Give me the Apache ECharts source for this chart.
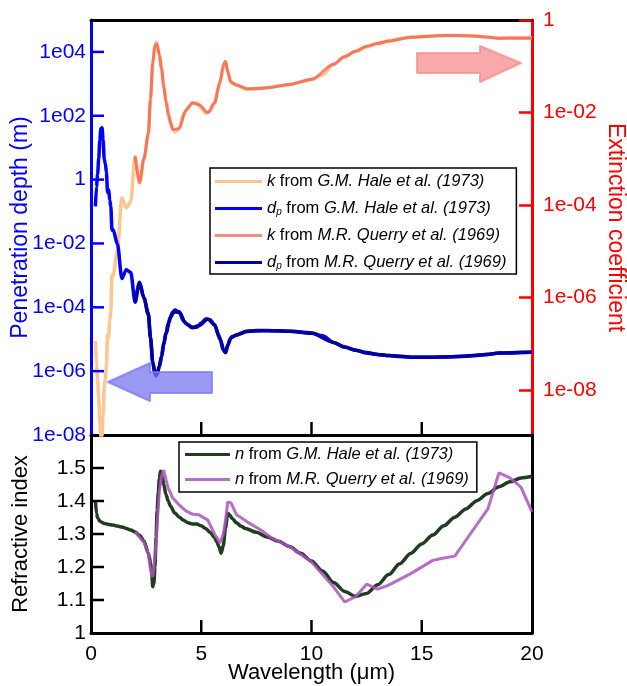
<!DOCTYPE html>
<html>
<head>
<meta charset="utf-8">
<script src="https://cdn.jsdelivr.net/npm/echarts@6/dist/echarts.min.js"></script>
<style>
  html, body { margin: 0; padding: 0; background: #ffffff; }
  #chart { width: 627px; height: 686px; }
</style>
</head>
<body>
<div id="chart"></div>
<script>
// Optical constants of liquid water, 0.2 - 20 um.

// Hale & Querry (1973): wavelength grid for k and penetration depth
const lambdaHaleK = [0.2, 0.25, 0.3, 0.35, 0.4, 0.45, 0.5, 0.55, 0.6, 0.65,
  0.7, 0.75, 0.8, 0.85, 0.9, 0.95, 1.0, 1.2, 1.4, 1.6,
  1.8, 2.0, 2.2, 2.4, 2.6, 2.7, 2.8, 2.9, 2.95, 3.0,
  3.1, 3.2, 3.3, 3.4, 3.6, 3.8, 4.0, 4.2, 4.4, 4.6,
  4.8, 5.0, 5.2, 5.4, 5.6, 5.8, 5.9, 6.0, 6.1, 6.2,
  6.3, 6.4, 6.6, 6.8, 7.0, 7.5, 8.0, 8.5, 9.0, 9.5,
  10.0, 10.5, 11.0, 11.5, 12.0, 12.5, 13.0, 13.5, 14.0, 14.5,
  15.0, 16.0, 17.0, 17.5, 18.0, 18.5, 19.0, 20.0];

const kHale = [1.1e-7, 3.3e-8, 1.6e-8, 6e-9, 1.9e-9, 9e-10, 9.5e-10, 2.5e-9, 1.1e-8, 1.6e-8,
  3.3e-8, 1.5e-7, 1.3e-7, 3.0e-7, 5.0e-7, 2.9e-6, 2.9e-6, 1.0e-5, 1.4e-4, 8.5e-5,
  1.15e-4, 1.1e-3, 2.9e-4, 9.5e-4, 3.2e-3, 1.9e-2, 0.115, 0.26, 0.33, 0.27,
  0.18, 0.09, 0.04, 0.018, 0.006, 0.0037, 0.0046, 0.009, 0.0125, 0.0155,
  0.016, 0.0124, 0.0096, 0.0105, 0.0155, 0.035, 0.055, 0.1, 0.125, 0.08,
  0.05, 0.042, 0.039, 0.035, 0.032, 0.032, 0.034, 0.037, 0.040, 0.045,
  0.051, 0.065, 0.11, 0.16, 0.21, 0.26, 0.31, 0.35, 0.39, 0.42,
  0.44, 0.46, 0.46, 0.45, 0.42, 0.40, 0.41, 0.41];

const dpHale = [0.145, 0.603, 1.49, 4.64, 16.8, 39.8, 41.9, 17.5, 4.34, 3.23,
  1.69, 0.398, 0.49, 0.225, 0.143, 0.0261, 0.0274, 0.00955, 7.96e-4, 1.5e-3,
  1.25e-3, 1.45e-4, 6.04e-4, 2.01e-4, 6.47e-5, 1.13e-5, 1.94e-6, 8.9e-7, 7.1e-7, 8.8e-7,
  1.37e-6, 2.83e-6, 6.6e-6, 1.5e-5, 4.78e-5, 8.17e-5, 6.92e-5, 3.71e-5, 2.8e-5, 2.36e-5,
  2.39e-5, 3.21e-5, 4.31e-5, 4.09e-5, 2.87e-5, 1.32e-5, 8.5e-6, 4.77e-6, 3.88e-6, 6.17e-6,
  1.0e-5, 1.21e-5, 1.35e-5, 1.55e-5, 1.74e-5, 1.87e-5, 1.87e-5, 1.83e-5, 1.79e-5, 1.68e-5,
  1.56e-5, 1.29e-5, 7.96e-6, 5.72e-6, 4.55e-6, 3.83e-6, 3.34e-6, 3.07e-6, 2.86e-6, 2.75e-6,
  2.71e-6, 2.77e-6, 2.94e-6, 3.1e-6, 3.41e-6, 3.68e-6, 3.69e-6, 3.88e-6];

// Hale & Querry (1973): refractive index
const lambdaHaleN = [0.2, 0.25, 0.3, 0.4, 0.5, 0.6, 0.8, 1.0, 1.2, 1.4,
  1.6, 1.8, 2.0, 2.2, 2.4, 2.6, 2.65, 2.7, 2.75, 2.8,
  2.85, 2.9, 2.95, 3.0, 3.05, 3.1, 3.15, 3.2, 3.25, 3.3,
  3.4, 3.5, 3.6, 3.8, 4.0, 4.2, 4.4, 4.6, 4.8, 5.0,
  5.2, 5.4, 5.6, 5.7, 5.8, 5.9, 6.0, 6.1, 6.2, 6.3,
  6.4, 6.6, 6.8, 7.0, 7.5, 8.0, 8.5, 9.0, 9.5, 10.0,
  10.5, 11.0, 11.5, 12.0, 12.5, 13.0, 13.5, 14.0, 14.5, 15.0,
  15.5, 16.0, 16.5, 17.0, 17.5, 18.0, 18.5, 19.0, 19.5, 20.0];

const nHale = [1.40, 1.362, 1.349, 1.339, 1.335, 1.332, 1.329, 1.327, 1.324, 1.321,
  1.317, 1.312, 1.306, 1.296, 1.279, 1.242, 1.228, 1.212, 1.188, 1.14,
  1.15, 1.20, 1.29, 1.371, 1.426, 1.467, 1.49, 1.478, 1.467, 1.45,
  1.42, 1.40, 1.385, 1.364, 1.351, 1.342, 1.334, 1.33, 1.33, 1.325,
  1.317, 1.305, 1.289, 1.277, 1.262, 1.242, 1.265, 1.319, 1.363, 1.357,
  1.347, 1.334, 1.324, 1.317, 1.305, 1.291, 1.278, 1.262, 1.242, 1.218,
  1.188, 1.153, 1.126, 1.111, 1.12, 1.146, 1.177, 1.21, 1.241, 1.27,
  1.297, 1.325, 1.351, 1.376, 1.401, 1.423, 1.443, 1.458, 1.47, 1.475];

// Querry et al. (1969)
const lambdaQuerry = [2.0, 2.2, 2.4, 2.6, 2.7, 2.8, 2.9, 3.0, 3.1, 3.2,
  3.3, 3.4, 3.5, 3.7, 4.0, 4.3, 4.6, 4.9, 5.3, 5.6,
  5.85, 6.0, 6.1, 6.2, 6.35, 6.6, 7.1, 7.7, 8.2, 9.0,
  10.0, 11.0, 11.5, 12.0, 12.5, 13.0, 13.5, 14.5, 15.5, 16.0,
  16.5, 17.2, 18.0, 18.5, 19.0, 19.5, 20.0];

const kQuerry = [1.1e-3, 3e-4, 9.8e-4, 3.5e-3, 0.02, 0.12, 0.28, 0.30, 0.17, 0.085,
  0.035, 0.017, 0.009, 0.0042, 0.0044, 0.011, 0.016, 0.0145, 0.0098, 0.016,
  0.045, 0.105, 0.128, 0.075, 0.045, 0.039, 0.032, 0.033, 0.035, 0.040,
  0.052, 0.11, 0.16, 0.21, 0.27, 0.31, 0.35, 0.42, 0.45, 0.46,
  0.46, 0.45, 0.43, 0.40, 0.40, 0.40, 0.40];

const dpQuerry = [1.45e-4, 5.84e-4, 1.95e-4, 5.91e-5, 1.07e-5, 1.86e-6, 8.2e-7, 7.96e-7, 1.45e-6, 3.0e-6,
  7.5e-6, 1.59e-5, 3.09e-5, 7.01e-5, 7.23e-5, 3.11e-5, 2.29e-5, 2.69e-5, 4.3e-5, 2.79e-5,
  1.03e-5, 4.55e-6, 3.79e-6, 6.58e-6, 1.12e-5, 1.35e-5, 1.77e-5, 1.86e-5, 1.86e-5, 1.79e-5,
  1.53e-5, 7.96e-6, 5.72e-6, 4.55e-6, 3.68e-6, 3.34e-6, 3.07e-6, 2.75e-6, 2.74e-6, 2.77e-6,
  2.85e-6, 3.04e-6, 3.33e-6, 3.68e-6, 3.78e-6, 3.88e-6, 3.98e-6];

const nQuerry = [1.306, 1.29, 1.275, 1.24, 1.19, 1.17, 1.23, 1.33, 1.43, 1.475,
  1.494, 1.465, 1.44, 1.41, 1.388, 1.37, 1.36, 1.358, 1.342, 1.30,
  1.273, 1.30, 1.34, 1.397, 1.394, 1.358, 1.336, 1.312, 1.288, 1.262,
  1.215, 1.14, 1.094, 1.11, 1.148, 1.133, 1.145, 1.18, 1.22, 1.227,
  1.233, 1.30, 1.376, 1.485, 1.47, 1.442, 1.367];

const seriesNames = [
  'k from G.M. Hale et al. (1973)',
  'dp from G.M. Hale et al. (1973)',
  'k from M.R. Querry et al. (1969)',
  'dp from M.R. Querry et al. (1969)',
  'n from G.M. Hale et al. (1973)',
  'n from M.R. Querry et al. (1969)'
];

// tick positions
const xTicks = [0, 5, 10, 15, 20];
const xInnerTicks = [5, 10, 15];
const depthTicks = [1e-6, 1e-4, 1e-2, 1, 1e2, 1e4];
const indexTicks = [1.1, 1.2, 1.3, 1.4, 1.5];

const FONT = '"Liberation Sans", Arial, Helvetica, sans-serif';
const BLUE = '#0000ff';
const RED = '#ff0000';
const BLACK = '#000000';

const zip = (xs, ys) => xs.map((x, i) => [x, ys[i]]);

function expLabel(v) {
  const e = Math.round(Math.log10(v));
  if (e === 0) return '1';
  const a = Math.abs(e);
  return '1e' + (e < 0 ? '-' : '') + (a < 10 ? '0' + a : String(a));
}

function legendText(name) {
  const m = name.match(/^(k|dp|n) from (.*)$/);
  const sym = m[1] === 'dp' ? '{i|d}{sub|p}' : '{i|' + m[1] + '}';
  return sym + ' from {i|' + m[2] + '}';
}

const legendRich = {
  i: { fontStyle: 'italic', fontSize: 16.5, fontFamily: FONT, color: BLACK },
  sub: { fontStyle: 'italic', fontSize: 10, fontFamily: FONT, color: BLACK,
         verticalAlign: 'bottom', padding: [7, 0, 0, 0] }
};

// Axis ranges
const X_MIN = 0, X_MAX = 20;
const DP_MIN = 1e-8, DP_MAX = 1e5;
const N_MIN = 1, N_MAX = 1.6;

// Frames: data axes in grids 0/1, tick labels in grids 2-5
const frameW = 441;
const upperH = 415;
const lowerH = 198;
const TICK = 13;
const box = (top, height) => ({ left: 91, top: top, width: frameW, height: height,
  outerBoundsMode: 'none', containLabel: false });
const grids = [
  box(20, upperH),   // 0: upper panel (data)
  box(435, lowerH),  // 1: lower panel (data)
  box(20, 370),      // 2: extinction-coefficient ticks, 1e-08 ... 1
  box(20, upperH),   // 3: penetration-depth labels
  box(435, lowerH),  // 4: wavelength labels
  box(435, lowerH)   // 5: refractive-index labels
];

const frameLine = color => ({ show: true, onZero: false, lineStyle: { color: color, width: 3 } });
const noLine = { show: false, onZero: false };
const inTick = color => ({ show: true, inside: true, length: TICK, lineStyle: { color: color, width: 2.5 } });
const noMark = { axisTick: { show: false }, axisLabel: { show: false }, splitLine: { show: false }, minorTick: { show: false } };
const hiddenX = g => ({ gridIndex: g, type: 'value', min: 0, max: 20, show: false });
const hiddenY = g => ({ gridIndex: g, type: 'value', min: 0, max: 1, show: false });

const lineBase = { type: 'line', showSymbol: false, symbol: 'none', clip: true, animation: false };

// Inward tick marks on the left and bottom edges, drawn as short segments on the data axes.
// The 13 px tick length is expressed in each axis' own units.
const tickLenX = TICK * (X_MAX - X_MIN) / frameW;
const tickFactorDp = Math.pow(10, TICK * Math.log10(DP_MAX / DP_MIN) / upperH);
const tickLenN = TICK * (N_MAX - N_MIN) / lowerH;

function tickSeries(xAxisIndex, yAxisIndex, points, color) {
  return { type: 'line', xAxisIndex: xAxisIndex, yAxisIndex: yAxisIndex, data: points,
    symbol: 'none', showSymbol: false, silent: true, clip: false, animation: false, z: 5,
    lineStyle: { color: color, width: 2.5, cap: 'butt' }, emphasis: { disabled: true }, tooltip: { show: false } };
}

const tickMarks = [].concat(
  depthTicks.map(v => tickSeries(0, 0, [[X_MIN, v], [X_MIN + tickLenX, v]], BLUE)),
  indexTicks.map(v => tickSeries(1, 2, [[X_MIN, v], [X_MIN + tickLenX, v]], BLACK)),
  xInnerTicks.map(v => tickSeries(0, 0, [[v, DP_MIN], [v, DP_MIN * tickFactorDp]], BLACK)),
  xInnerTicks.map(v => tickSeries(1, 2, [[v, N_MIN], [v, N_MIN + tickLenN]], BLACK))
);

const arrows = [
  // arrow pointing to the penetration-depth axis
  { type: 'polygon', z: 100,
    shape: { points: [[108, 382], [150, 363], [150, 372], [212, 372], [212, 393], [150, 393], [150, 401]] },
    style: { fill: 'rgba(120, 120, 240, 0.75)', lineJoin: 'round', stroke: 'rgba(120, 120, 240, 0.75)', lineWidth: 2 } },
  // arrow pointing to the extinction-coefficient axis
  { type: 'polygon', z: 100,
    shape: { points: [[521, 63], [480, 46], [480, 53], [417, 53], [417, 73], [480, 73], [480, 82]] },
    style: { fill: 'rgba(245, 140, 140, 0.75)', lineJoin: 'round', stroke: 'rgba(245, 140, 140, 0.75)', lineWidth: 2 } }
];

const option = {
  animation: false,
  backgroundColor: '#ffffff',
  textStyle: { fontFamily: FONT },
  grid: grids,
  xAxis: [
    // 0: upper panel bottom edge
    Object.assign({ gridIndex: 0, type: 'value', min: X_MIN, max: X_MAX, axisLine: frameLine(BLACK) }, noMark),
    // 1: lower panel bottom edge + title
    Object.assign({ gridIndex: 1, type: 'value', min: X_MIN, max: X_MAX, axisLine: frameLine(BLACK),
      name: 'Wavelength (\u03bcm)', nameLocation: 'middle', nameGap: 29, nameMoveOverlap: false,
      nameTextStyle: { color: BLACK, fontSize: 22, fontFamily: FONT } }, noMark),
    hiddenX(2),
    hiddenX(3),
    // 4: wavelength labels
    { gridIndex: 4, type: 'value', min: X_MIN, max: X_MAX, interval: 5,
      axisLine: noLine, axisTick: { show: false },
      axisLabel: { show: true, color: BLACK, fontSize: 21, fontFamily: FONT, margin: 11,
        formatter: v => (xTicks.indexOf(v) >= 0 ? String(v) : '') },
      splitLine: { show: false } },
    hiddenX(5),
    // 6: upper panel top edge
    Object.assign({ gridIndex: 0, type: 'value', min: X_MIN, max: X_MAX, position: 'top', axisLine: frameLine(BLACK) }, noMark)
  ],
  yAxis: [
    // 0: penetration depth (data axis, line + title)
    Object.assign({ gridIndex: 0, type: 'log', logBase: 10, min: DP_MIN, max: DP_MAX, axisLine: frameLine(BLUE),
      name: 'Penetration depth (m)', nameLocation: 'middle', nameGap: 59, nameMoveOverlap: false,
      nameTextStyle: { color: BLUE, fontSize: 23, fontFamily: FONT } }, noMark),
    // 1: extinction coefficient (data axis, line + title)
    Object.assign({ gridIndex: 0, type: 'log', logBase: 10, min: 1e-9, max: 1, position: 'right',
      axisLine: frameLine(RED),
      name: 'Extinction coefficient', nameLocation: 'middle', nameGap: 72, nameRotate: -90, nameMoveOverlap: false,
      nameTextStyle: { color: RED, fontSize: 23, fontFamily: FONT } }, noMark),
    // 2: refractive index (data axis, line + title)
    Object.assign({ gridIndex: 1, type: 'value', min: N_MIN, max: N_MAX, axisLine: frameLine(BLACK),
      name: 'Refractive index', nameLocation: 'middle', nameGap: 59, nameMoveOverlap: false,
      nameTextStyle: { color: BLACK, fontSize: 22, fontFamily: FONT } }, noMark),
    // 3: extinction coefficient ticks and labels
    { gridIndex: 2, type: 'log', logBase: 10, min: 1e-8, max: 1, interval: 2, position: 'right',
      axisLine: noLine, axisTick: inTick(RED), minorTick: { show: false },
      axisLabel: { color: RED, fontSize: 21, fontFamily: FONT, margin: 11,
        formatter: v => { const e = Math.round(Math.log10(v)); return (e % 2 === 0) ? expLabel(v) : ''; } },
      splitLine: { show: false } },
    // 4: penetration depth labels
    { gridIndex: 3, type: 'log', logBase: 10, min: DP_MIN, max: DP_MAX, interval: 2, position: 'left',
      axisLine: noLine, axisTick: { show: false }, minorTick: { show: false },
      axisLabel: { color: BLUE, fontSize: 21, fontFamily: FONT, margin: 5,
        formatter: v => { const e = Math.round(Math.log10(v)); return (e % 2 === 0 && e <= 4) ? expLabel(v) : ''; } },
      splitLine: { show: false } },
    hiddenY(4),
    // 6: refractive index labels
    { gridIndex: 5, type: 'value', min: N_MIN, max: N_MAX, interval: 0.1, position: 'left',
      axisLine: noLine, axisTick: { show: false },
      axisLabel: { color: BLACK, fontSize: 21, fontFamily: FONT, margin: 5,
        formatter: v => (v > 1.55 ? '' : String(Math.round(v * 10) / 10)) },
      splitLine: { show: false } },
    // 7: lower panel right edge
    Object.assign({ gridIndex: 1, type: 'value', min: N_MIN, max: N_MAX, position: 'right', axisLine: frameLine(BLACK) }, noMark)
  ],
  legend: [
    { data: seriesNames.slice(0, 4), orient: 'vertical', left: 210, top: 168,
      padding: [5, 10, 3, 5], itemGap: 10, itemWidth: 47, itemHeight: 3, icon: 'rect',
      borderColor: BLACK, borderWidth: 1.5, backgroundColor: '#fff',
      formatter: legendText,
      textStyle: { fontSize: 16.5, fontFamily: FONT, color: BLACK, rich: legendRich } },
    { data: seriesNames.slice(4), orient: 'vertical', left: 179, top: 442,
      padding: [4, 8, 4, 6], itemGap: 8, itemWidth: 45, itemHeight: 3, icon: 'rect',
      borderColor: BLACK, borderWidth: 1.5, backgroundColor: '#fff',
      formatter: legendText,
      textStyle: { fontSize: 16.5, fontFamily: FONT, color: BLACK, rich: legendRich } }
  ],
  series: [
    Object.assign({}, lineBase, { name: seriesNames[0], xAxisIndex: 0, yAxisIndex: 1,
      data: zip(lambdaHaleK, kHale), smooth: 0.3, smoothMonotone: 'x',
      lineStyle: { color: '#ffc58f', width: 3.5 }, itemStyle: { color: '#ffc58f' } }),
    Object.assign({}, lineBase, { name: seriesNames[1], xAxisIndex: 0, yAxisIndex: 0,
      data: zip(lambdaHaleK, dpHale), smooth: 0.3, smoothMonotone: 'x',
      lineStyle: { color: BLUE, width: 3.5 }, itemStyle: { color: BLUE } }),
    Object.assign({}, lineBase, { name: seriesNames[2], xAxisIndex: 0, yAxisIndex: 1,
      data: zip(lambdaQuerry, kQuerry), smooth: 0.3, smoothMonotone: 'x',
      lineStyle: { color: 'rgba(240, 70, 60, 0.62)', width: 3 }, itemStyle: { color: 'rgba(240, 70, 60, 0.62)' } }),
    Object.assign({}, lineBase, { name: seriesNames[3], xAxisIndex: 0, yAxisIndex: 0,
      data: zip(lambdaQuerry, dpQuerry), smooth: 0.3, smoothMonotone: 'x',
      lineStyle: { color: '#0000a0', width: 3.5 }, itemStyle: { color: '#0000a0' } }),
    Object.assign({}, lineBase, { name: seriesNames[4], xAxisIndex: 1, yAxisIndex: 2,
      data: zip(lambdaHaleN, nHale), smooth: 0.3, smoothMonotone: 'x',
      lineStyle: { color: '#1f3d1f', width: 3.5 }, itemStyle: { color: '#1f3d1f' } }),
    Object.assign({}, lineBase, { name: seriesNames[5], xAxisIndex: 1, yAxisIndex: 2,
      data: zip(lambdaQuerry, nQuerry),
      lineStyle: { color: 'rgba(170, 85, 190, 0.85)', width: 3 }, itemStyle: { color: 'rgba(170, 85, 190, 0.85)' } })
  ].concat(tickMarks),
  graphic: arrows
};

const chart = echarts.init(document.getElementById('chart'), null, { renderer: 'canvas' });
chart.setOption(option);
</script>
</body>
</html>
